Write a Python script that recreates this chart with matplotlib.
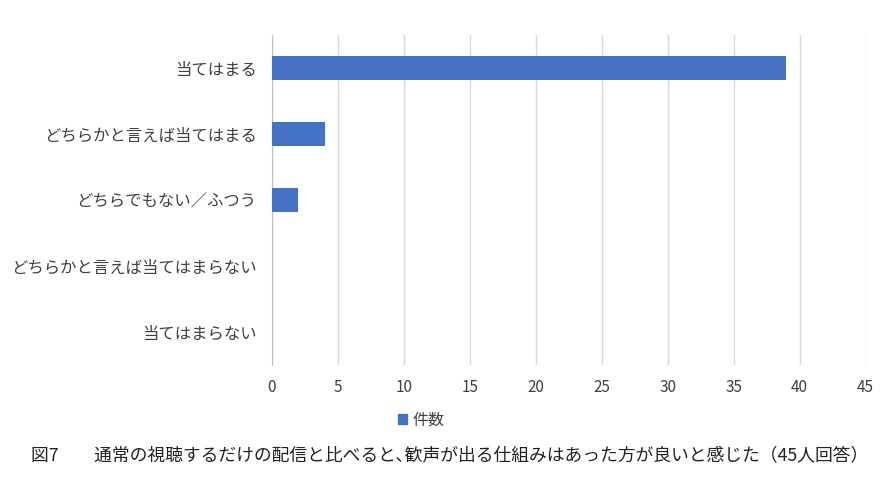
import matplotlib
matplotlib.use("Agg")
import matplotlib.pyplot as plt
from matplotlib.patches import Patch

plt.rcParams['font.family'] = ['Noto Sans CJK JP', 'DejaVu Sans']

categories = ["当てはまる", "どちらかと言えば当てはまる", "どちらでもない／ふつう",
              "どちらかと言えば当てはまらない", "当てはまらない"]
counts = [39, 4, 2, 0, 0]
xticks = list(range(0, 50, 5))
series_name = "件数"
caption = "図7　　通常の視聴するだけの配信と比べると､歓声が出る仕組みはあった方が良いと感じた（45人回答）"

bar_color = "#4472C4"
text_color = "#404040"

fig = plt.figure(figsize=(8.9, 5), dpi=100)
ax = fig.add_axes([0.3056, 0.27, 0.667, 0.66])

y = list(range(len(categories)))
ax.barh(y, counts, height=0.35, color=bar_color, zorder=3)
ax.set_yticks(y)
ax.set_yticklabels(categories, fontsize=11.8, color=text_color)
ax.set_ylim(len(categories) - 0.5, -0.5)
ax.set_xlim(0, 45)
ax.set_xticks(xticks)
ax.set_xticklabels([str(t) for t in xticks], fontsize=11, color=text_color)
ax.grid(axis='x', color="#D9D9D9", linewidth=1, zorder=0)
for s in ["top", "right", "bottom"]:
    ax.spines[s].set_visible(False)
ax.spines["left"].set_color("#BFBFBF")
ax.tick_params(axis='y', length=0, pad=11)
ax.tick_params(axis='x', length=0, pad=10)

fig.legend(handles=[Patch(color=bar_color, label=series_name)], loc="center",
           bbox_to_anchor=(0.473, 0.16), frameon=False, fontsize=11.5,
           handlelength=0.6, handleheight=0.6, handletextpad=0.3, labelcolor=text_color)

fig.text(0.035, 0.09, caption, fontsize=12.8, color="#222222", va="center", ha="left")

fig.savefig("out.png", dpi=100)
